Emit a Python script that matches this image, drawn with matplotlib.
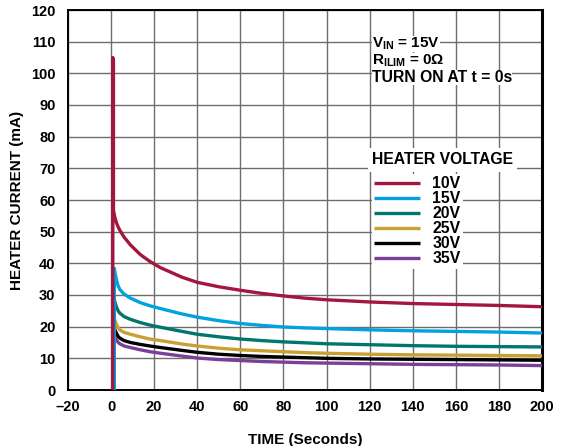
import matplotlib
matplotlib.use("Agg")
import matplotlib.pyplot as plt

plt.rcParams['font.family'] = ['Liberation Sans', 'DejaVu Sans']
plt.rcParams['font.weight'] = 'bold'
plt.rcParams['mathtext.fontset'] = 'custom'
plt.rcParams['mathtext.rm'] = 'Liberation Sans:bold'
plt.rcParams['mathtext.it'] = 'Liberation Sans:bold'
plt.rcParams['mathtext.bf'] = 'Liberation Sans:bold'

# time axis (seconds)
t_curve = [1.7, 2.5, 3.2, 4, 6, 9, 13.5, 18, 23, 33, 40, 50, 60, 70, 80, 90, 100, 120, 140, 160, 180, 200]

i_10v = [54.7, 52.8, 51.6, 50.5, 48.3, 45.8, 42.8, 40.6, 38.6, 35.6, 34.0, 32.6, 31.5, 30.5, 29.7, 29.0, 28.5, 27.8, 27.3, 27.0, 26.7, 26.3]
i_15v = [37.4, 34.8, 33.0, 31.8, 30.3, 29.0, 27.6, 26.6, 25.7, 24.0, 23.0, 21.9, 21.0, 20.4, 19.9, 19.6, 19.4, 19.0, 18.7, 18.5, 18.3, 18.0]
i_20v = [27.9, 26.2, 25.1, 24.3, 23.2, 22.3, 21.3, 20.5, 19.8, 18.5, 17.6, 16.8, 16.1, 15.6, 15.2, 14.9, 14.6, 14.3, 14.0, 13.8, 13.7, 13.6]
i_25v = [22.1, 20.7, 19.7, 19.0, 18.2, 17.6, 16.8, 16.1, 15.6, 14.5, 13.9, 13.2, 12.7, 12.4, 12.1, 11.8, 11.6, 11.3, 11.1, 11.0, 10.9, 10.8]
i_30v = [19.0, 17.9, 17.0, 16.4, 15.6, 15.0, 14.4, 13.9, 13.4, 12.5, 11.9, 11.3, 10.9, 10.6, 10.4, 10.2, 10.0, 9.8, 9.7, 9.6, 9.5, 9.4]
i_35v = [16.8, 15.8, 15.1, 14.6, 13.9, 13.4, 12.7, 12.1, 11.6, 10.7, 10.1, 9.6, 9.3, 9.0, 8.8, 8.6, 8.5, 8.3, 8.1, 8.0, 7.9, 7.7]

t_spike = 0.8
t_step = 1.5
spike_peak = 105

labels = ['10V', '15V', '20V', '25V', '30V', '35V']
colors = ['#A3173F', '#00A3DD', '#00766C', '#C9A032', '#000000', '#7B3F98']
series = [i_10v, i_15v, i_20v, i_25v, i_30v, i_35v]

fig = plt.figure(figsize=(5.67, 4.46), dpi=100)
ax = fig.add_axes([68/567, 1-390/446, (542-68)/567, (390-10)/446])

lines = {}
for lab, col, ys in reversed(list(zip(labels, colors, series))):
    if lab == '10V':
        tx = [t_spike, t_spike, t_spike + 0.3, t_spike + 0.3] + t_curve
        yy = [0, spike_peak, spike_peak - 1, ys[0] + 2] + ys
        z = 4
    else:
        tx = [t_step, t_step] + t_curve
        yy = [0, ys[0] + 1] + ys
        z = 3
    ln, = ax.plot(tx, yy, color=col, lw=2.4, label=lab, solid_joinstyle='round',
                  solid_capstyle='butt', zorder=z)
    lines[lab] = ln

ax.set_xlim(-20, 200)
ax.set_ylim(0, 120)
ax.set_xticks(range(-20, 201, 20))
ax.set_xticklabels(['\u201320'] + [str(v) for v in range(0, 201, 20)])
ax.set_yticks(range(0, 121, 10))
ax.grid(True, color='#6e6e6e', lw=1.0, zorder=0)
ax.tick_params(length=0, labelsize=10.5)
ax.tick_params(axis='y', pad=9)
ax.tick_params(axis='x', pad=7)
for lbl in ax.get_xticklabels() + ax.get_yticklabels():
    lbl.set_fontweight('bold')
for sp in ax.spines.values():
    sp.set_color('black')
    sp.set_linewidth(1.4)
ax.spines['right'].set_linewidth(2.2)

ax.set_xlabel('TIME (Seconds)', fontsize=11, fontweight='bold', labelpad=14)
ax.set_ylabel('HEATER CURRENT (mA)', fontsize=11, fontweight='bold', labelpad=5)

bb = dict(facecolor='white', edgecolor='none', pad=0.0)
ax.text(372/567, 1-48/446, r'V$_{\rm IN}$ = 15V', transform=fig.transFigure,
        fontsize=11, fontweight='bold', va='baseline', ha='left', bbox=bb, zorder=5)
ax.text(372/567, 1-65/446, r'R$_{\rm ILIM}$ = 0$\Omega$', transform=fig.transFigure,
        fontsize=11, fontweight='bold', va='baseline', ha='left', bbox=bb, zorder=5)
ax.text(372/567, 1-82/446, 'TURN ON AT t = 0s', transform=fig.transFigure,
        fontsize=11.3, fontweight='bold', va='baseline', ha='left', bbox=bb, zorder=5)

ax.text(372/567, 1-160/446, 'HEATER VOLTAGE', transform=fig.transFigure,
        fontsize=11.3, fontweight='bold', va='center', ha='left',
        bbox=dict(facecolor='white', edgecolor='none', pad=3.0), zorder=5)

leg = ax.legend([lines[l] for l in labels], labels,
                loc='upper left',
                bbox_to_anchor=(372/567, 1-174/446), bbox_transform=fig.transFigure,
                frameon=True, fancybox=False, framealpha=1, edgecolor='none',
                facecolor='white', fontsize=11.3,
                handlelength=2.9, handletextpad=0.8, labelspacing=0.0,
                borderpad=0.15, borderaxespad=0)
for txt in leg.get_texts():
    txt.set_fontweight('bold')
leg.set_zorder(6)

fig.savefig('out.png', dpi=100)
